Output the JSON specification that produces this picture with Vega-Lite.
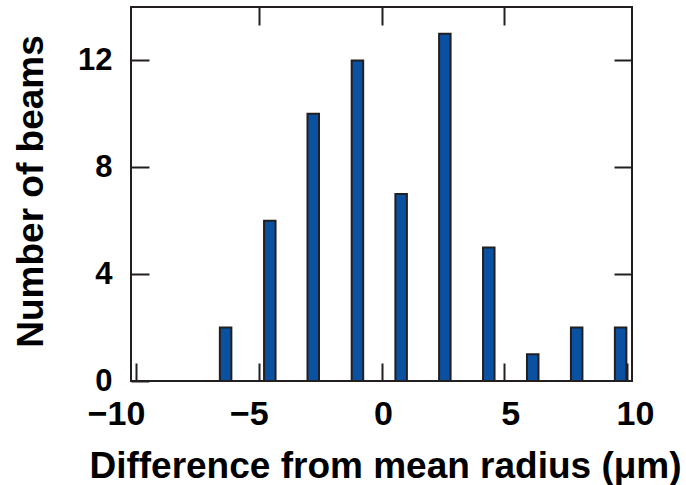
{
  "$schema": "https://vega.github.io/schema/vega-lite/v6.json",
  "width": 501,
  "height": 374,
  "autosize": "none",
  "padding": {"left": 131, "top": 7, "right": 54, "bottom": 104},
  "background": "white",
  "config": {
    "view": {"stroke": "#231f20", "strokeWidth": 2},
    "font": "Liberation Sans",
    "axis": {
      "grid": false,
      "domain": false,
      "tickColor": "#231f20",
      "tickWidth": 2,
      "tickSize": -18,
      "labelFont": "Liberation Sans",
      "labelFontWeight": "bold",
      "labelColor": "#000000",
      "titleFont": "Liberation Sans",
      "titleFontWeight": "bold",
      "titleColor": "#000000"
    }
  },
  "data": {
    "values": [
      {"diff": -6.35, "count": 2},
      {"diff": -4.55, "count": 6},
      {"diff": -2.78, "count": 10},
      {"diff": -0.98, "count": 12},
      {"diff": 0.8, "count": 7},
      {"diff": 2.58, "count": 13},
      {"diff": 4.37, "count": 5},
      {"diff": 6.16, "count": 1},
      {"diff": 7.95, "count": 2},
      {"diff": 9.74, "count": 2}
    ]
  },
  "layer": [
    {
      "mark": {"type": "bar", "size": 11.5, "fill": "#0b51a1", "stroke": "#231f20", "strokeWidth": 2},
      "encoding": {
        "x": {
          "field": "diff", "type": "quantitative",
          "scale": {"domain": [-10, 10], "nice": false, "zero": false},
          "axis": {
            "orient": "bottom",
            "values": [-10, -5, 0, 5, 10],
            "labelFontSize": 34,
            "labelPadding": 34.5,
            "labelFlush": false,
            "labelOverlap": false,
            "labelOffset": {"condition": [
              {"test": "datum.value < -7", "value": -20},
              {"test": "datum.value < -2", "value": -10},
              {"test": "datum.value < 2", "value": 1.5},
              {"test": "datum.value < 7", "value": 6}
            ], "value": 8},
            "labelExpr": "datum.value < 0 ? '\u2212' + abs(datum.value) : datum.label",
            "title": "Difference from mean radius (μm)",
            "titleFontSize": 37,
            "titleBaseline": "alphabetic",
            "titleY": 96,
            "titleX": 254
          }
        },
        "y": {
          "field": "count", "type": "quantitative",
          "scale": {"domain": [0, 14], "nice": false},
          "axis": {
            "orient": "left",
            "values": [0, 4, 8, 12],
            "labelFontSize": 31,
            "labelPadding": 37,
            "labelFlush": false,
            "labelOverlap": false,
            "title": "Number of beams",
            "titleFontSize": 37,
            "titleBaseline": "alphabetic",
            "titleAngle": -90,
            "titleX": -89,
            "titleY": 184
          }
        }
      }
    },
    {
      "mark": {"type": "bar", "size": 11.5, "opacity": 0},
      "encoding": {
        "x": {
          "field": "diff", "type": "quantitative",
          "axis": {"orient": "top", "values": [-5, 0, 5], "labels": false, "title": null}
        },
        "y": {
          "field": "count", "type": "quantitative",
          "axis": {"orient": "right", "values": [4, 8, 12], "labels": false, "title": null}
        }
      }
    }
  ],
  "resolve": {"axis": {"x": "independent", "y": "independent"}}
}
